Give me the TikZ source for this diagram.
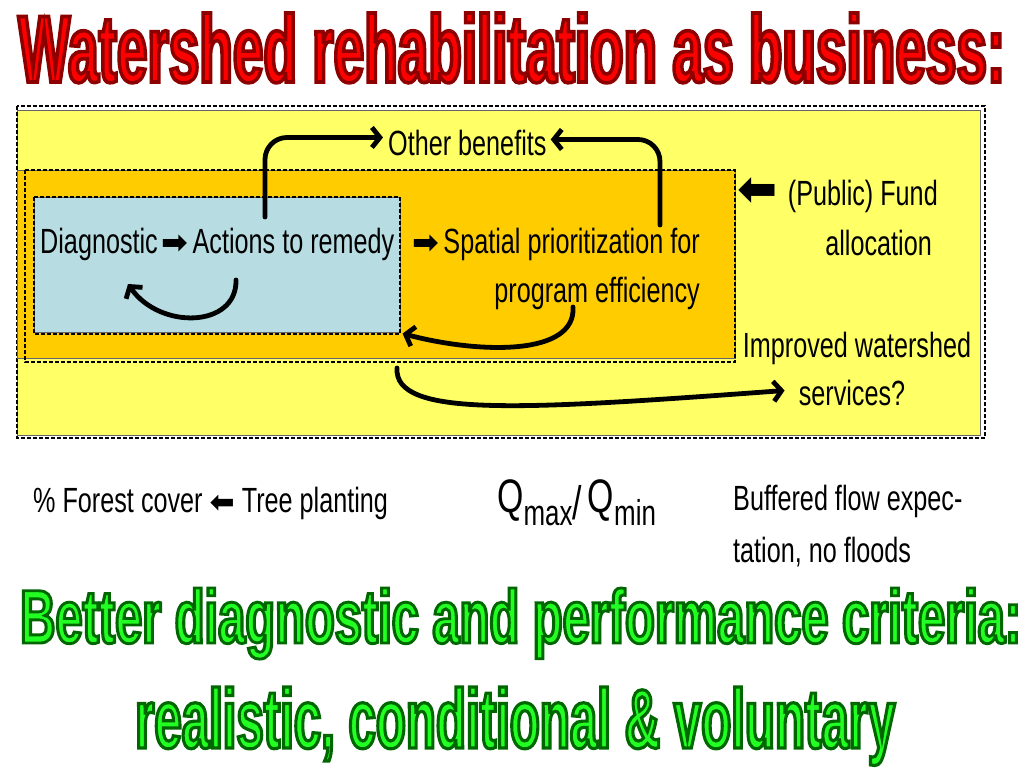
\documentclass[tikz,border=0pt]{standalone}
\usepackage{fontspec}
\setmainfont{Liberation Sans}
\newfontfamily\nar[FakeStretch=0.72]{Liberation Sans}
\newfontfamily\heavy[FakeStretch=0.6]{Liberation Sans}
\newfontfamily\sym{DejaVu Sans}
\usetikzlibrary{arrows.meta}
\definecolor{ylw}{HTML}{FFFF66}
\definecolor{org}{HTML}{FFCC00}
\definecolor{lblue}{HTML}{B7DDE3}
\definecolor{ttlred}{HTML}{FF0000}
\definecolor{grn}{HTML}{22FF22}
\definecolor{edge}{HTML}{666666}
\newcommand\strokeon[4]{\special{pdf:literal direct 2 Tr #1 w #2 #3 #4 RG}}
\newcommand\strokeoff{\special{pdf:literal direct 0 Tr}}
\newcommand\bodyfont{\nar\fontsize{35}{42}\selectfont}
\newcommand\rarr{\hspace{4pt}{\sym\bfseries\fontsize{32}{32}\selectfont ➡}\hspace{4pt}}
\newcommand\larr{{\sym\bfseries\fontsize{48}{48}\selectfont ⬅}}
\tikzset{
  panel/.style={draw=edge, line width=0.6pt, inner sep=0pt, anchor=north west},
  dashbox/.style={draw=black, dash pattern=on 4pt off 2pt, line width=1.2pt},
  txt/.style={inner sep=0pt, font=\bodyfont},
  flow/.style={line width=4.8pt, line cap=round, -{Straight Barb[length=8pt,width=20pt]}},
  headline/.style={inner sep=0pt, anchor=base west}
}
\begin{document}
\begin{tikzpicture}[x=1pt,y=-1pt]
\path[use as bounding box, fill=white] (0,0) rectangle (1024,768);

% panels
\node[panel, fill=ylw, minimum width=963pt, minimum height=325pt] (yellow) at (17,110) {};
\draw[dashbox] (17,106) rectangle (985,438);
\node[panel, fill=org, minimum width=718pt, minimum height=188pt] (orange) at (17,170) {};
\draw[dashbox] (25,170) rectangle (735,362);
\node[panel, fill=lblue, minimum width=366pt, minimum height=135pt] (bluebox) at (34,197) {};
\draw[dashbox] (34,197) rectangle (400,334);

% titles
\node[headline, text=ttlred] (title) at (18,82)
  {\resizebox{987pt}{69pt}{\heavy\bfseries\fontsize{80}{80}\selectfont\strokeon{3}{0.55}{0}{0}Watershed rehabilitation as business:\strokeoff}};
\node[headline, text=grn] (crit1) at (20,643)
  {\resizebox{1001pt}{55pt}{\heavy\bfseries\fontsize{80}{80}\selectfont\strokeon{3}{0}{0.4}{0}Better diagnostic and performance criteria:\strokeoff}};
\node[headline, text=grn] (crit2) at (135,748)
  {\resizebox{760pt}{61pt}{\heavy\bfseries\fontsize{80}{80}\selectfont\strokeon{3}{0}{0.4}{0}realistic, conditional \& voluntary\strokeoff}};

% texts
\node[txt, anchor=base west] (other) at (388,155) {Other benefits};
\node[txt, anchor=base west] (diag) at (40,253) {Diagnostic\rarr Actions to remedy};
\node[txt, anchor=base east] (spat1) at (700,253) {\rarr Spatial prioritization for};
\node[txt, anchor=base east] (spat2) at (700,302) {program efficiency};
\node[txt, anchor=base east] (fund1) at (938,205) {\larr\hspace{10pt}(Public) Fund};
\node[txt, anchor=base east] (fund2) at (932,255) {allocation};
\node[txt, anchor=base] (impr1) at (857,357) {Improved watershed};
\node[txt, anchor=base] (impr2) at (852,405) {services?};
\node[txt, anchor=base west] (forest) at (33,512) {\% Forest cover {\sym\bfseries\fontsize{30}{30}\selectfont ⬅} Tree planting};
\node[txt, anchor=base west] (qratio) at (497,512)
  {{\fontsize{47}{47}\selectfont Q}\raisebox{-13pt}{\fontsize{36}{36}\selectfont max}{\fontsize{47}{47}\selectfont\raisebox{-7pt}{/}\hspace{6pt}Q}\raisebox{-13pt}{\fontsize{36}{36}\selectfont min}};
\node[txt, anchor=base west] (buff1) at (733,510) {Buffered flow expec-};
\node[txt, anchor=base west] (buff2) at (733,562) {tation, no floods};

% connector start points
\coordinate (a1) at (265,217);
\coordinate (a2) at (660,225);
\coordinate (a3) at (236,280);
\coordinate (e3) at (128,284);
\coordinate (a4) at (573,307);
\coordinate (a5) at (397,368);

% connectors
\draw[flow, rounded corners=22pt] (a1) |- ([xshift=-5pt,yshift=5pt]other.west);
\draw[flow, rounded corners=22pt] (a2) |- ([xshift=4pt,yshift=3pt]other.east);
\draw[flow] (a3) .. controls (237,328) and (160,330) .. (e3);
\draw[flow] (a4) .. controls (576,356) and (480,354) .. ([xshift=2pt,yshift=-1pt]bluebox.south east);
\draw[flow] (a5) .. controls (394,418) and (520,410) .. ([xshift=-14pt,yshift=2pt]impr2.west);
\end{tikzpicture}
\end{document}
